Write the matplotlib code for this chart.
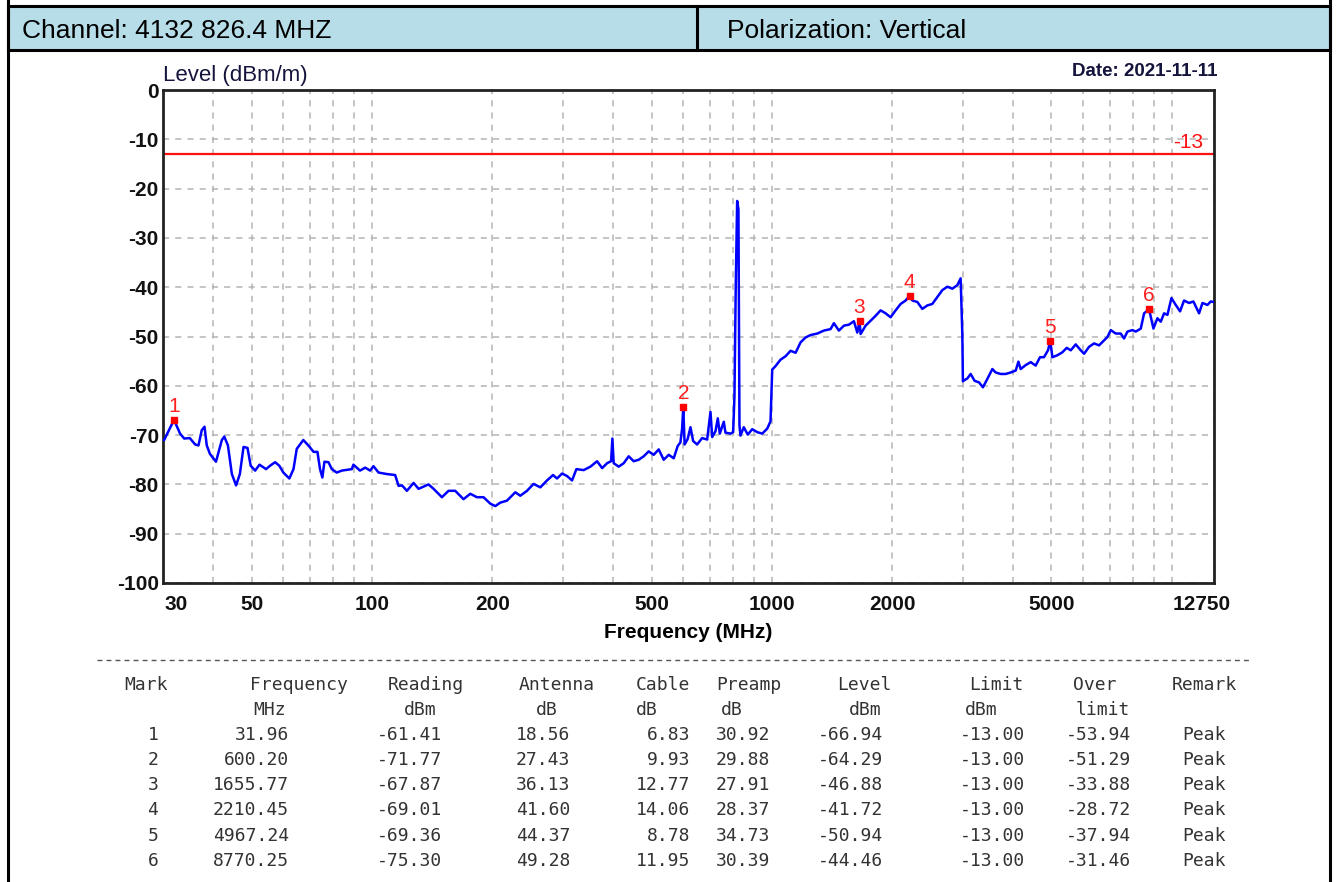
import matplotlib
matplotlib.use("Agg")
import matplotlib.pyplot as plt
import matplotlib.transforms as mtransforms
from matplotlib.lines import Line2D
from matplotlib.patches import Rectangle

# ---- data ----
freq_mhz = [
    30.0, 30.2, 31.96, 33.1, 33.9, 35.0, 36.1, 36.8, 37.5, 38.1, 38.6, 39.3, 40.7,
    42.1, 42.7, 43.6, 44.6, 45.7, 46.7, 47.7, 48.8, 49.7, 51.0, 52.3, 54.3, 55.6,
    57.2, 58.6, 60.0, 62.1, 63.6, 64.8, 67.3, 69.3, 71.4, 73.0, 74.1, 75.1, 76.0,
    77.8, 79.3, 81.6, 84.0, 89.0, 89.8, 93.3, 96.1, 98.9, 100.8, 103.8, 108.9,
    114.2, 116.5,
    118.8, 122.2, 127.0, 130.7, 138.4, 142.5, 149.5, 155.3, 161.4, 169.3, 176.0,
    182.9, 190.0, 197.5, 203.3, 209.2, 217.4, 228.1, 234.8, 244.0, 253.5, 263.5,
    273.8, 283.5, 290.1, 298.6, 307.3, 316.3, 324.3, 338.2, 351.6, 365.4, 376.1,
    387.0, 396.0, 399.0, 402.0, 413.8, 425.9, 438.3, 451.1, 464.3, 477.9, 491.8,
    506.2, 521.0, 536.2, 551.9, 568.0, 581.3, 590.2, 596.0, 600.2, 604.8, 615.4,
    625.5, 635.2, 649.9,
    669.0, 688.6, 701.9, 708.9, 722.5, 732.1, 740.6, 757.8, 765.1, 787.5, 799.8,
    805.8, 811.9, 818.5, 824.6, 829.4, 834.2, 850.3, 870.1, 892.6, 918.7, 945.5,
    973.0, 991.8, 1001.6, 1020.9, 1050.7, 1081.5, 1113.3, 1146.0, 1178.9, 1213.4,
    1249.5, 1298.4, 1348.5, 1401.6, 1428.6, 1470.4, 1513.4, 1557.6, 1603.1,
    1634.8, 1655.8, 1666.3, 1714.9, 1765.0, 1816.6, 1869.6, 1924.3, 1980.4,
    2038.3, 2097.8, 2159.1, 2210.5, 2244.0, 2310.1, 2377.1, 2446.6, 2518.0,
    2591.5, 2667.2, 2745.2, 2825.3, 2907.9, 2964.0, 2993.0, 3003.0,
    3010.0, 3081.0, 3140.0, 3213.0, 3294.0, 3370.0, 3457.0, 3558.0, 3627.0,
    3733.0, 3842.0, 3954.0, 4071.0, 4134.0, 4188.0, 4311.0, 4437.0, 4566.0,
    4681.0, 4790.0, 4902.0, 4967.2, 5027.0, 5174.0, 5325.0, 5460.0, 5588.0,
    5751.0, 5919.0, 6034.0, 6209.0, 6391.0, 6577.0, 6769.0, 6903.0, 7036.0,
    7241.0, 7452.0, 7596.0, 7746.0, 7972.0, 8126.0, 8363.0, 8525.0, 8770.3,
    8859.0, 8996.0, 9205.0, 9384.0, 9563.0, 9752.0, 9979.0, 10230.0, 10486.0,
    10730.0, 11043.0, 11324.0, 11700.0, 11930.0, 12277.0, 12513.0, 12750.0,
]
level_dbm = [
    -71.0, -71.0, -66.9, -69.7, -70.7, -70.6, -71.9, -72.1, -69.0, -68.3, -72.1, -73.8, -75.4,
    -71.0, -70.3, -72.1, -77.9, -80.2, -77.9, -72.4, -72.6, -76.2, -77.2, -76.0, -76.9, -76.2,
    -75.5, -76.2, -77.6, -78.8, -76.9, -72.8, -71.0, -72.1, -73.4, -73.4, -76.9, -78.6, -75.4,
    -75.5, -76.9, -77.6, -77.2, -76.9, -76.0, -77.2, -76.6, -77.2, -76.3, -77.6, -77.9,
    -78.1, -80.3,
    -80.2, -81.3, -79.7, -80.9, -80.0, -80.9, -82.6, -81.3, -81.3, -83.0, -81.9,
    -82.6, -82.6, -83.9, -84.4, -83.7, -83.3, -81.6, -82.3, -81.3, -79.9, -80.6,
    -79.2, -78.1, -78.8, -77.8, -78.3, -79.2, -76.9, -77.1, -76.4, -75.3, -76.7,
    -75.7, -75.3, -70.7, -75.7, -76.4, -75.7, -74.3, -75.3, -75.0, -74.3, -73.3,
    -74.0, -72.9, -75.0, -74.0, -74.7, -72.2, -71.5, -68.8, -64.3, -71.9, -70.8,
    -68.4, -71.2, -71.9,
    -70.6, -70.9, -65.3, -70.4, -69.2, -66.6, -69.7, -67.3, -69.5, -69.7, -69.4,
    -62.2, -39.6, -22.5, -24.2, -68.0, -70.1, -68.4, -69.9, -68.8, -69.4, -69.7,
    -68.7, -67.2, -56.7, -56.0, -54.7, -54.0, -52.9, -53.3, -51.2, -50.2,
    -49.7, -49.4, -48.8, -48.5, -47.3, -48.8, -47.8, -47.6, -46.9,
    -49.2, -46.9, -49.5, -47.8, -46.8, -45.8, -44.7, -45.3, -46.1,
    -44.7, -43.4, -42.7, -41.7, -42.7, -43.0, -44.4, -43.7, -43.4,
    -42.0, -40.6, -39.9, -40.3, -39.6, -38.2, -49.5, -59.1,
    -59.0, -58.5, -57.6, -59.0, -59.3, -60.3, -58.6, -56.6, -57.3,
    -57.6, -57.6, -57.3, -56.9, -55.1, -56.6, -55.8, -55.2, -55.9,
    -54.2, -54.2, -52.8, -50.9, -54.2, -53.8, -53.2, -52.3, -52.8,
    -51.6, -52.8, -53.5, -52.1, -51.4, -51.8, -50.8, -50.1, -48.7,
    -49.4, -49.4, -50.4, -49.0, -48.7, -49.0, -48.4, -45.3, -44.5,
    -46.0, -48.4, -46.3, -47.0, -45.3, -45.6, -42.2, -43.6, -44.9,
    -42.7, -43.2, -42.9, -45.3, -43.2, -43.6, -42.9, -43.0,
]

limit_dbm = -13

marks = [1, 2, 3, 4, 5, 6]
mark_freq = [31.96, 600.20, 1655.77, 2210.45, 4967.24, 8770.25]
mark_reading = [-61.41, -71.77, -67.87, -69.01, -69.36, -75.30]
mark_antenna = [18.56, 27.43, 36.13, 41.60, 44.37, 49.28]
mark_cable = [6.83, 9.93, 12.77, 14.06, 8.78, 11.95]
mark_preamp = [30.92, 29.88, 27.91, 28.37, 34.73, 30.39]
mark_level = [-66.94, -64.29, -46.88, -41.72, -50.94, -44.46]
mark_limit = [-13.00, -13.00, -13.00, -13.00, -13.00, -13.00]
mark_over = [-53.94, -51.29, -33.88, -28.72, -37.94, -31.46]
mark_remark = ["Peak", "Peak", "Peak", "Peak", "Peak", "Peak"]

x_tick_vals = [30, 50, 100, 200, 500, 1000, 2000, 5000, 12750]
x_grid_vals = [40, 60, 70, 80, 90, 300, 400, 600, 700, 800, 900,
               3000, 4000, 6000, 7000, 8000, 9000, 10000]
y_tick_vals = [0, -10, -20, -30, -40, -50, -60, -70, -80, -90, -100]

W, H = 1338, 882


def fx(x):
    return x / W


def fy(y):
    return 1 - y / H


plt.rcParams['font.family'] = ['Liberation Sans', 'DejaVu Sans']
fig = plt.figure(figsize=(W / 100, H / 100), dpi=100)

# header band
fig.patches.append(Rectangle((fx(8), fy(50)), fx(1330) - fx(8), fy(6) - fy(50),
                             transform=fig.transFigure, facecolor='#b7dde8',
                             edgecolor='black', lw=2.2, zorder=0))
fig.add_artist(Line2D([fx(697), fx(697)], [fy(6), fy(50)], color='black', lw=2.2))
fig.add_artist(Line2D([fx(8), fx(8)], [0, 1], color='black', lw=2.2))
fig.add_artist(Line2D([fx(1330), fx(1330)], [0, 1], color='black', lw=2.2))
fig.text(fx(22), fy(31), "Channel: 4132 826.4 MHZ", fontsize=19, va='center', ha='left')
fig.text(fx(727), fy(31), "Polarization: Vertical", fontsize=19, va='center', ha='left')

# plot area
ax = fig.add_axes([fx(163), fy(583), fx(1214) - fx(163), fy(90) - fy(583)])
ax.set_xscale('log')
ax.set_xlim(30, 12750)
ax.set_ylim(-100, 0)

ax.set_xticks(x_tick_vals)
ax.set_xticklabels([str(v) for v in x_tick_vals])
ax.set_xticks(x_grid_vals, minor=True)
ax.set_xticklabels([], minor=True)
ax.set_yticks(y_tick_vals)
ax.set_yticklabels([str(v) for v in y_tick_vals])
ax.tick_params(axis='both', which='both', length=0)
ax.tick_params(axis='x', pad=9)
ax.tick_params(axis='y', pad=3)
for lab in ax.get_xticklabels() + ax.get_yticklabels():
    lab.set_fontsize(15)
    lab.set_fontweight('bold')
    lab.set_color('#111111')
# end labels sit slightly inward, as in the reference
xlabs = ax.get_xticklabels()
xlabs[0].set_transform(xlabs[0].get_transform() +
                       mtransforms.ScaledTranslation(13 / 100, 0, fig.dpi_scale_trans))
xlabs[-1].set_transform(xlabs[-1].get_transform() +
                        mtransforms.ScaledTranslation(-12 / 100, 0, fig.dpi_scale_trans))

ax.grid(True, which='both', axis='x', color='#b4b4b4', lw=1.1, linestyle=(0, (4, 4)))
ax.grid(True, which='major', axis='y', color='#b4b4b4', lw=1.1, linestyle=(0, (4, 4)))
for s in ax.spines.values():
    s.set_color('#222222')
    s.set_linewidth(2)

ax.plot(freq_mhz, level_dbm, color='#0000ff', lw=1.8, zorder=3)
ax.axhline(limit_dbm, color='#ff1010', lw=1.6, zorder=2)
blend = mtransforms.blended_transform_factory(ax.transAxes, ax.transData)
ax.text(0.975, limit_dbm + 0.5, str(limit_dbm), transform=blend, color='#ff1010',
        fontsize=15, ha='center', va='bottom')

ax.plot(mark_freq, mark_level, 's', color='#ff0000', ms=5, zorder=4)
for m, f, lv in zip(marks, mark_freq, mark_level):
    ax.annotate(str(m), (f, lv), xytext=(0, 3), textcoords='offset points',
                ha='center', va='bottom', color='#ff2020', fontsize=15)

ax.set_xlabel("Frequency (MHz)", fontsize=15, fontweight='bold', labelpad=6)
fig.text(fx(163), fy(76), "Level (dBm/m)", fontsize=16, va='center', ha='left', color='#14143c')
fig.text(fx(1217), fy(72), "Date: 2021-11-11", fontsize=13.5, fontweight='bold',
         va='center', ha='right', color='#14143c')

# separator
fig.add_artist(Line2D([fx(97), fx(1250)], [fy(660), fy(660)], color='#555555', lw=1,
                      linestyle=(0, (3.5, 3))))

# results table
mono = dict(family='DejaVu Sans Mono', fontsize=13, color='#333333', va='center')
head1 = [("Mark", 146, 'center'), ("Frequency", 348, 'right'), ("Reading", 426, 'center'),
         ("Antenna", 557, 'center'), ("Cable", 663, 'center'), ("Preamp", 749, 'center'),
         ("Level", 864, 'center'), ("Limit", 996, 'center'), ("Over", 1095, 'center'),
         ("Remark", 1204, 'center')]
head2 = [("MHz", 286, 'right'), ("dBm", 420, 'center'), ("dB", 547, 'center'),
         ("dB", 647, 'center'), ("dB", 732, 'center'), ("dBm", 865, 'center'),
         ("dBm", 981, 'center'), ("limit", 1103, 'center')]
for t, x, ha in head1:
    fig.text(fx(x), fy(685), t, ha=ha, **mono)
for t, x, ha in head2:
    fig.text(fx(x), fy(710), t, ha=ha, **mono)

row_y = [735, 760, 785, 810, 836, 861]
for i in range(len(marks)):
    y = fy(row_y[i])
    fig.text(fx(153), y, str(marks[i]), ha='center', **mono)
    fig.text(fx(289), y, f"{mark_freq[i]:.2f}", ha='right', **mono)
    fig.text(fx(442), y, f"{mark_reading[i]:.2f}", ha='right', **mono)
    fig.text(fx(570), y, f"{mark_antenna[i]:.2f}", ha='right', **mono)
    fig.text(fx(690), y, f"{mark_cable[i]:.2f}", ha='right', **mono)
    fig.text(fx(770), y, f"{mark_preamp[i]:.2f}", ha='right', **mono)
    fig.text(fx(883), y, f"{mark_level[i]:.2f}", ha='right', **mono)
    fig.text(fx(1025), y, f"{mark_limit[i]:.2f}", ha='right', **mono)
    fig.text(fx(1131), y, f"{mark_over[i]:.2f}", ha='right', **mono)
    fig.text(fx(1204), y, mark_remark[i], ha='center', **mono)

fig.savefig("out.png", dpi=100)
